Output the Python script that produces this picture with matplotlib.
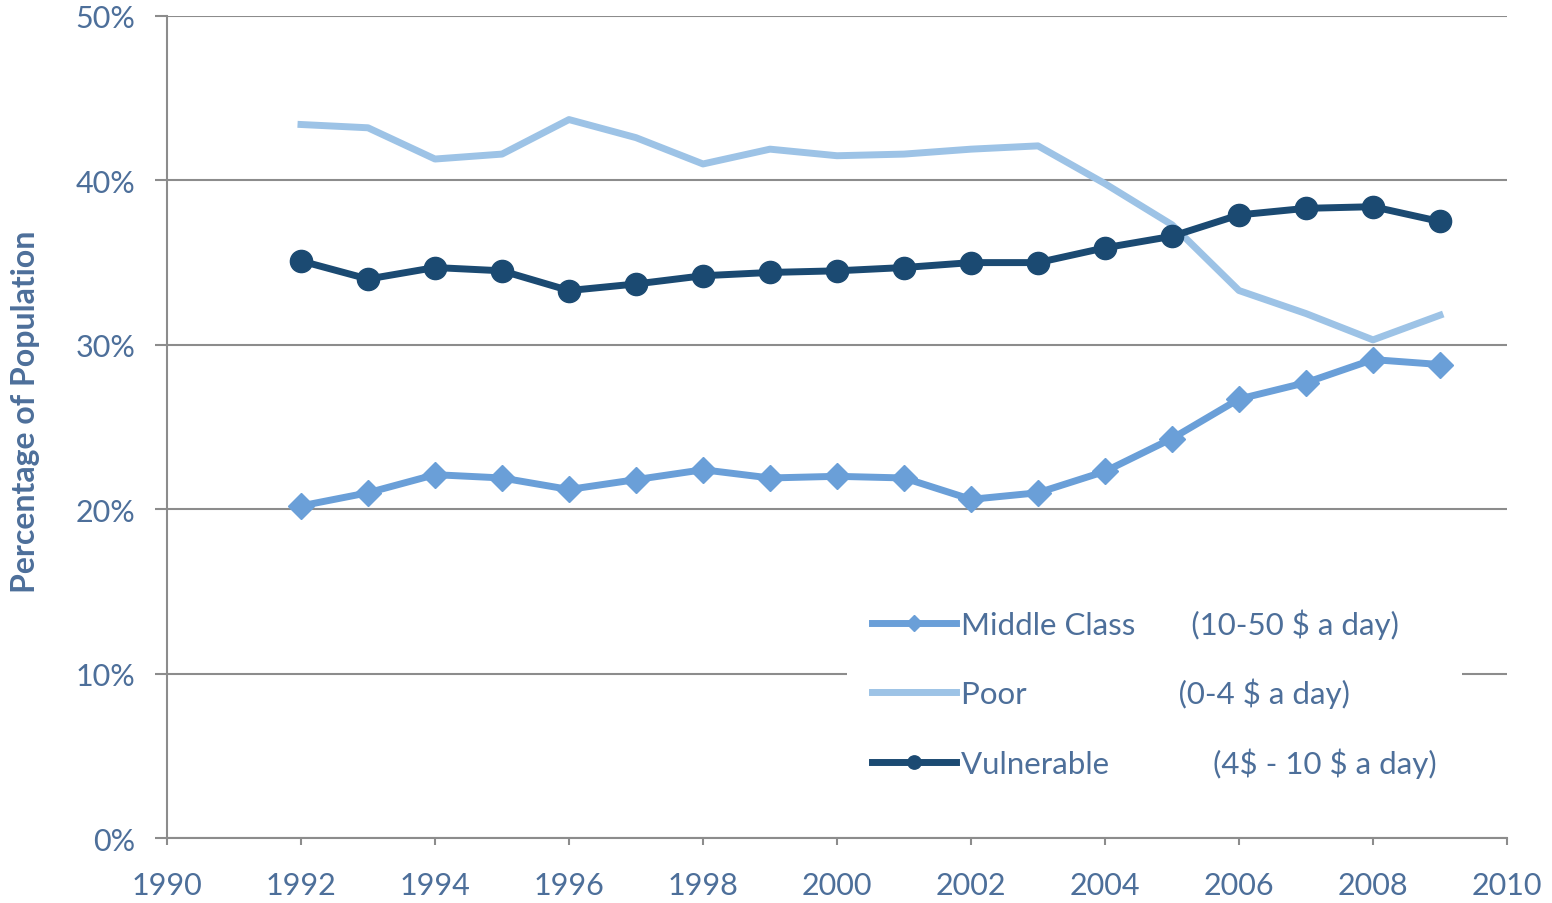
import matplotlib.pyplot as plt

# data (percent of population)
years = list(range(1992, 2010))
middle = [20.2, 21.0, 22.1, 21.9, 21.2, 21.8, 22.4, 21.9, 22.0, 21.9,
          20.6, 21.0, 22.3, 24.3, 26.7, 27.7, 29.1, 28.8]
poor = [43.4, 43.2, 41.3, 41.6, 43.7, 42.6, 41.0, 41.9, 41.5, 41.6,
        41.9, 42.1, 39.8, 37.3, 33.3, 31.9, 30.3, 31.8]
vulnerable = [35.1, 34.0, 34.7, 34.5, 33.3, 33.7, 34.2, 34.4, 34.5, 34.7,
              35.0, 35.0, 35.9, 36.6, 37.9, 38.3, 38.4, 37.5]
labels = ['Middle Class' + ' ' * 7 + r'(10-50 \$ a day)',
          'Poor' + ' ' * 19 + r'(0-4 \$ a day)',
          'Vulnerable' + ' ' * 13 + r'(4\$ - 10 \$ a day)']
yticks = [0, 10, 20, 30, 40, 50]
xticks = list(range(1990, 2011, 2))

txt = '#4d6f9a'
grid = '#8c8c8c'
plt.rcParams['font.family'] = ['Lato', 'DejaVu Sans']

fig = plt.figure(figsize=(15.52, 9.04), dpi=100)
ax = fig.add_axes([0.1076, 0.0719, 0.8634, 0.9093])

ax.plot(years, middle, color='#6a9fd8', lw=5, marker='D', ms=13, label=labels[0], zorder=4)
ax.plot(years, poor, color='#9dc3e6', lw=5, label=labels[1], zorder=3)
ax.plot(years, vulnerable, color='#1b4a72', lw=5, marker='o', ms=16, label=labels[2], zorder=5)

ax.set_xlim(1990, 2010)
ax.set_ylim(0, 50)
ax.set_xticks(xticks)
ax.set_yticks(yticks)
ax.set_yticklabels([f'{v}%' for v in yticks])
ax.tick_params(axis='y', length=9, width=1.5, color=grid, labelcolor=txt, labelsize=22, pad=14)
ax.tick_params(axis='x', length=5, width=1.5, color=grid, labelcolor=txt, labelsize=22, pad=19)
ax.grid(axis='y', color=grid, lw=1.5, zorder=0)
ax.set_axisbelow(True)
for s in ['top', 'right']:
    ax.spines[s].set_visible(False)
for s in ['left', 'bottom']:
    ax.spines[s].set_color(grid)
    ax.spines[s].set_linewidth(1.5)

ax.set_ylabel('Percentage of Population', color=txt, fontsize=23, fontweight='bold')
ax.yaxis.set_label_coords(-0.095, 0.52)

leg = ax.legend(loc='lower left', bbox_to_anchor=(0.4955, 0.024), frameon=True, fontsize=22.5,
                handlelength=2.7, handletextpad=0.17, labelspacing=1.25, borderpad=0.8,
                markerscale=0.6)
leg.get_frame().set_facecolor('white')
leg.get_frame().set_edgecolor('none')
leg.get_frame().set_alpha(1)
for t in leg.get_texts():
    t.set_color(txt)

fig.savefig('out.png', dpi=100)
